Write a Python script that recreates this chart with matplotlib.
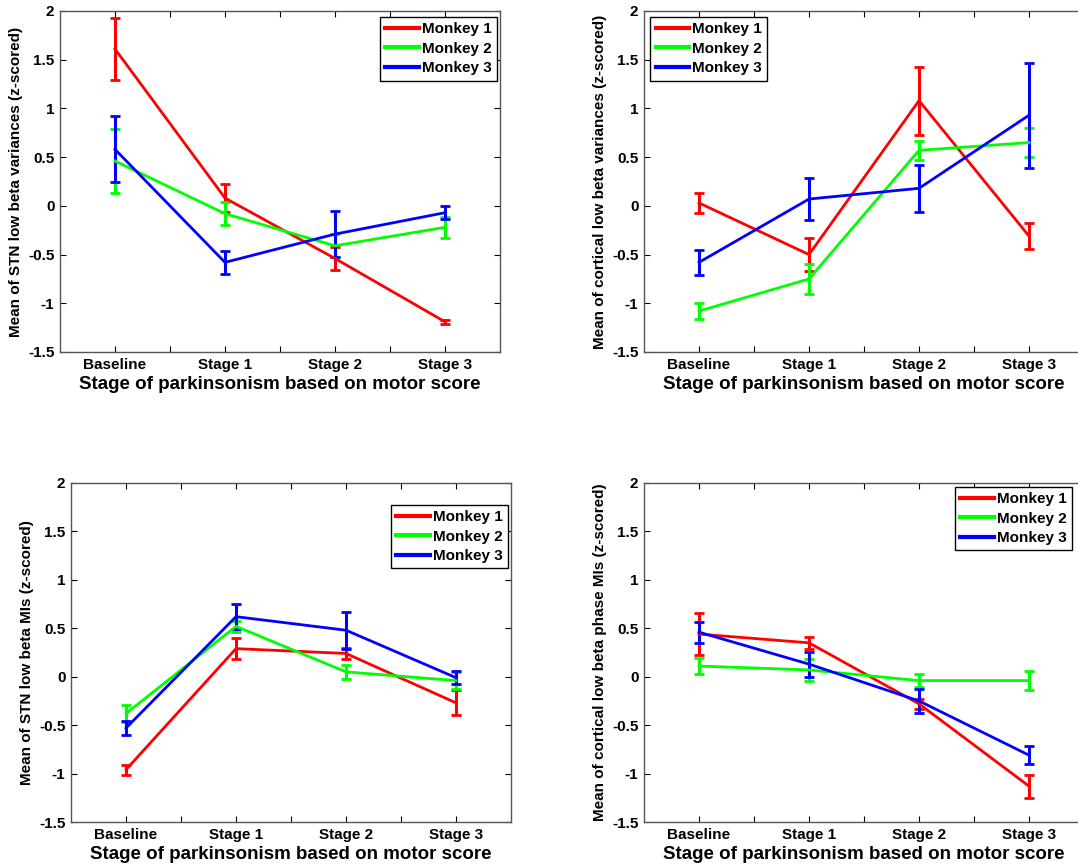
import matplotlib.pyplot as plt
from matplotlib.lines import Line2D
import numpy as np

plt.rcParams['font.family'] = ['Liberation Sans', 'DejaVu Sans']
plt.rcParams['font.weight'] = 'bold'

stages = ['Baseline', 'Stage 1', 'Stage 2', 'Stage 3']
monkeys = ['Monkey 1', 'Monkey 2', 'Monkey 3']
colors = ['#ff0000', '#00ff00', '#0000ff']
xlabel = 'Stage of parkinsonism based on motor score'

# top left: STN low beta variances
stn_var_mean = [[1.61, 0.08, -0.54, -1.19],
                [0.46, -0.08, -0.41, -0.22],
                [0.58, -0.58, -0.29, -0.07]]
stn_var_err = [[0.32, 0.14, 0.12, 0.02],
               [0.33, 0.12, 0.12, 0.11],
               [0.34, 0.12, 0.24, 0.07]]

# top right: cortical low beta variances
ctx_var_mean = [[0.03, -0.50, 1.08, -0.31],
                [-1.08, -0.75, 0.57, 0.65],
                [-0.58, 0.07, 0.18, 0.93]]
ctx_var_err = [[0.10, 0.17, 0.35, 0.13],
               [0.08, 0.15, 0.10, 0.15],
               [0.13, 0.22, 0.24, 0.54]]

# bottom left: STN low beta MIs
stn_mi_mean = [[-0.96, 0.29, 0.24, -0.27],
               [-0.38, 0.52, 0.05, -0.04],
               [-0.53, 0.62, 0.48, -0.01]]
stn_mi_err = [[0.05, 0.11, 0.06, 0.13],
              [0.09, 0.06, 0.07, 0.09],
              [0.07, 0.13, 0.19, 0.07]]

# bottom right: cortical low beta phase MIs
ctx_mi_mean = [[0.44, 0.35, -0.28, -1.13],
               [0.11, 0.07, -0.04, -0.04],
               [0.46, 0.13, -0.25, -0.81]]
ctx_mi_err = [[0.22, 0.06, 0.05, 0.12],
              [0.08, 0.11, 0.07, 0.10],
              [0.11, 0.13, 0.12, 0.09]]

W, H = 1078, 867
fig = plt.figure(figsize=(W / 100, H / 100), dpi=100)

panels = [
    # (left, top, bottom px), data, ylabel, legend loc, anchor
    ((60, 11, 352), stn_var_mean, stn_var_err,
     'Mean of STN low beta variances (z-scored)', 'upper right', (0.993, 0.982)),
    ((644, 11, 352), ctx_var_mean, ctx_var_err,
     'Mean of cortical low beta variances (z-scored)', 'upper left', (0.014, 0.982)),
    ((71, 483, 822), stn_mi_mean, stn_mi_err,
     'Mean of STN low beta MIs (z-scored)', 'upper right', (0.993, 0.935)),
    ((644, 483, 822), ctx_mi_mean, ctx_mi_err,
     'Mean of cortical low beta phase MIs (z-scored)', 'upper left', (0.707, 0.988)),
]

x = np.arange(1, len(stages) + 1)
for (left, top, bottom), means, errs, ylab, loc, anchor in panels:
    ax = fig.add_axes([left / W, 1 - bottom / H, 440 / W, (bottom - top) / H])
    for m, e, c in zip(means, errs, colors):
        ax.errorbar(x, m, yerr=e, color=c, lw=2, elinewidth=2.2,
                    capsize=3.5, capthick=2)
    ax.set_xlim(0.5, 4.5)
    ax.set_ylim(-1.5, 2)
    ax.set_xticks(x)
    ax.set_xticklabels(stages)
    ax.set_xticks([1.5, 2.5, 3.5], minor=True)
    ax.set_yticks(np.arange(-1.5, 2.01, 0.5))
    ax.set_yticklabels(['-1.5', '-1', '-0.5', '0', '0.5', '1', '1.5', '2'])
    ax.tick_params(which='both', direction='in', top=True, right=True,
                   labelsize=11, length=4, width=0.8, pad=4)
    for lab in ax.get_xticklabels() + ax.get_yticklabels():
        lab.set_fontweight('bold')
    for sp in ax.spines.values():
        sp.set_color('#555555')
        sp.set_linewidth(1)
    ax.set_xlabel(xlabel, fontsize=13.5, fontweight='bold', labelpad=3)
    ax.set_ylabel(ylab, fontsize=11, fontweight='bold', labelpad=4)
    handles = [Line2D([], [], color=c, lw=3) for c in colors]
    leg = ax.legend(handles, monkeys, loc=loc, bbox_to_anchor=anchor,
                    fontsize=11, fancybox=False, edgecolor='black', framealpha=1,
                    handlelength=2.2, handletextpad=0.2, labelspacing=0.35,
                    borderpad=0.35, borderaxespad=0)
    leg.get_frame().set_linewidth(1)
    for t in leg.get_texts():
        t.set_fontweight('bold')

fig.savefig('out.png', dpi=100)
